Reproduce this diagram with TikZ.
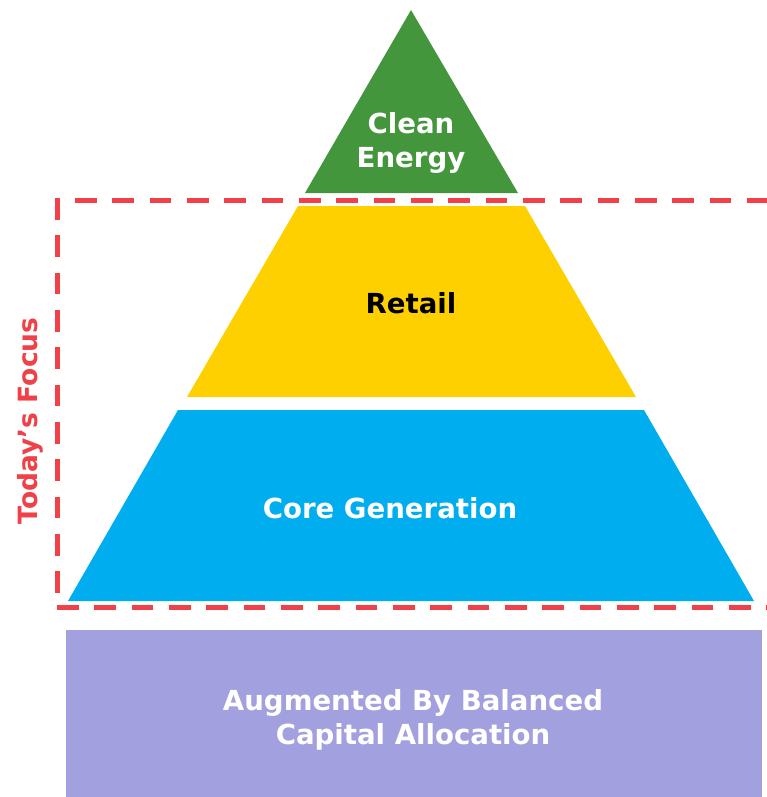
\documentclass[tikz,border=0pt]{standalone}
\usepackage{fontspec}
\setmainfont{DejaVu Sans}
\definecolor{leafgreen}{RGB}{67,150,60}
\definecolor{sunyellow}{RGB}{255,208,0}
\definecolor{skyblue}{RGB}{0,174,239}
\definecolor{lavender}{RGB}{163,160,224}
\definecolor{focusred}{RGB}{239,65,71}
\tikzset{
  layertext/.style={font=\fontsize{27.6}{34}\selectfont\bfseries, align=center, text=white, inner sep=0pt},
  focusline/.style={draw=focusred, line width=5pt, dash pattern=on 21.7pt off 15.63pt}
}
\begin{document}
\begin{tikzpicture}[x=1pt, y=-1pt]
  \useasboundingbox (0,0) rectangle (766,797);
  % pyramid layers
  \fill[leafgreen] (411,10) -- (518,193) -- (305,193) -- cycle;
  \fill[sunyellow] (298,206) -- (525,206) -- (636,397) -- (187,397) -- cycle;
  \fill[skyblue] (178,410) -- (644,410) -- (754,601) -- (68,601) -- cycle;
  \fill[lavender] (66,630) rectangle (762,797);
  % labels
  \node[layertext] (clean) at (411,143) {Clean\\Energy};
  \node[layertext, text=black] (retail) at (411,303) {Retail};
  \node[layertext] (core) at (390,508) {Core Generation};
  \node[layertext] (capital) at (413,720) {Augmented By Balanced\\Capital Allocation};
  % focus frame
  \draw[focusline] (75,200) -- (780,200);
  \draw[focusline] (57,198) -- (57,607);
  \draw[focusline] (57,607) -- (780,607);
  \node[font=\fontsize{26.5}{30}\selectfont\bfseries, text=focusred, rotate=90, inner sep=0pt] (focus) at (30,421) {Today’s Focus};
\end{tikzpicture}
\end{document}
